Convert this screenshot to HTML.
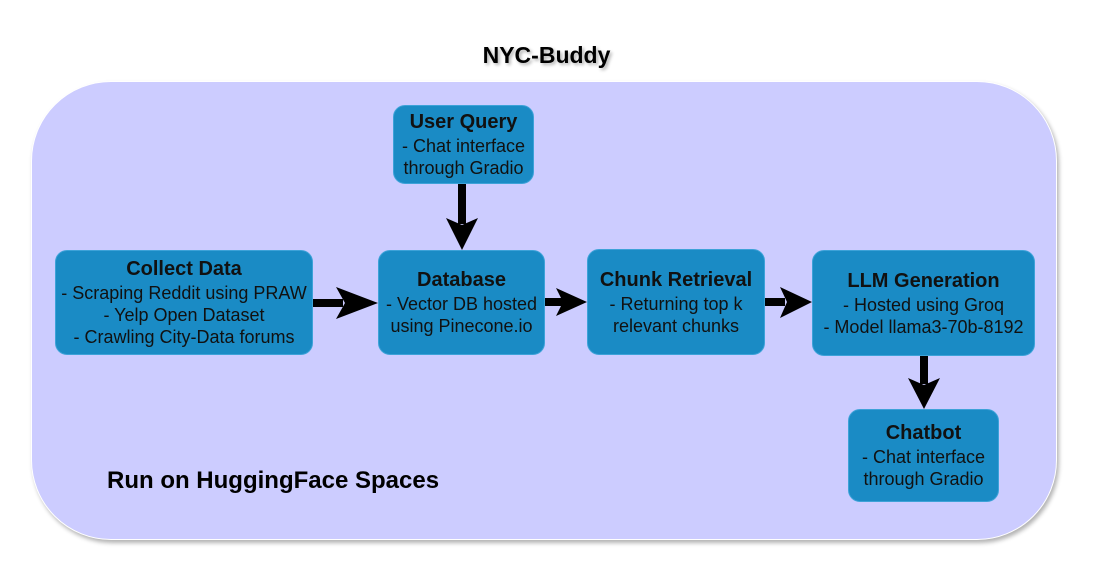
<!DOCTYPE html>
<html><head><style>
body{margin:0;width:1093px;height:577px;background:#fff;position:relative;overflow:hidden;font-family:"Liberation Sans",Arial,sans-serif;}
.c{position:absolute;left:31px;top:81px;width:1026px;height:459px;background:#ccccff;border-radius:80px;box-shadow:2px 3px 4px rgba(0,0,0,0.3);border:1px solid #fff;box-sizing:border-box;}
.b{position:absolute;background:#1a8bc5;border:1px solid #3da2d8;border-radius:12px;box-sizing:border-box;display:flex;flex-direction:column;justify-content:center;align-items:center;text-align:center;color:#111;font-size:18px;line-height:22px;white-space:nowrap;}
.b b{font-size:20px;line-height:25px;}
.t{position:absolute;font-weight:bold;color:#000;}
</style></head><body>
<div class="t" style="left:0;width:1093px;text-align:center;top:42px;font-size:23px;text-shadow:2px 2px 3px rgba(0,0,0,0.3)">NYC-Buddy</div>
<div class="c"></div>
<div class="b" style="left:393px;top:105px;width:141px;height:79px"><b>User Query</b>- Chat interface<br>through Gradio</div>
<div class="b" style="left:55px;top:250px;width:258px;height:105px"><b>Collect Data</b>- Scraping Reddit using PRAW<br>- Yelp Open Dataset<br>- Crawling City-Data forums</div>
<div class="b" style="left:378px;top:250px;width:167px;height:105px"><b>Database</b>- Vector DB hosted<br>using Pinecone.io</div>
<div class="b" style="left:587px;top:249px;width:178px;height:106px"><b>Chunk Retrieval</b>- Returning top k<br>relevant chunks</div>
<div class="b" style="left:812px;top:250px;width:223px;height:106px"><b>LLM Generation</b>- Hosted using Groq<br>- Model llama3-70b-8192</div>
<div class="b" style="left:848px;top:409px;width:151px;height:93px"><b>Chatbot</b>- Chat interface<br>through Gradio</div>
<div class="t" style="left:107px;top:467px;font-size:24px">Run on HuggingFace Spaces</div>
<svg width="1093" height="577" style="position:absolute;left:0;top:0">
<g fill="#000">
<rect x="313" y="299" width="30" height="8"/><polygon points="336,287 378,303 336,319 345,303"/>
<rect x="545" y="298" width="18" height="8"/><polygon points="556,288 587,302 556,316 563,302"/>
<rect x="765" y="298" width="20" height="8"/><polygon points="780,287 812,302 780,318 787,302"/>
<rect x="458" y="184" width="8" height="40"/><polygon points="446,218 462,250 478,218 462,225"/>
<rect x="920" y="356" width="8" height="28"/><polygon points="908,378 924,409 940,378 924,385"/>
</g></svg>
</body></html>
